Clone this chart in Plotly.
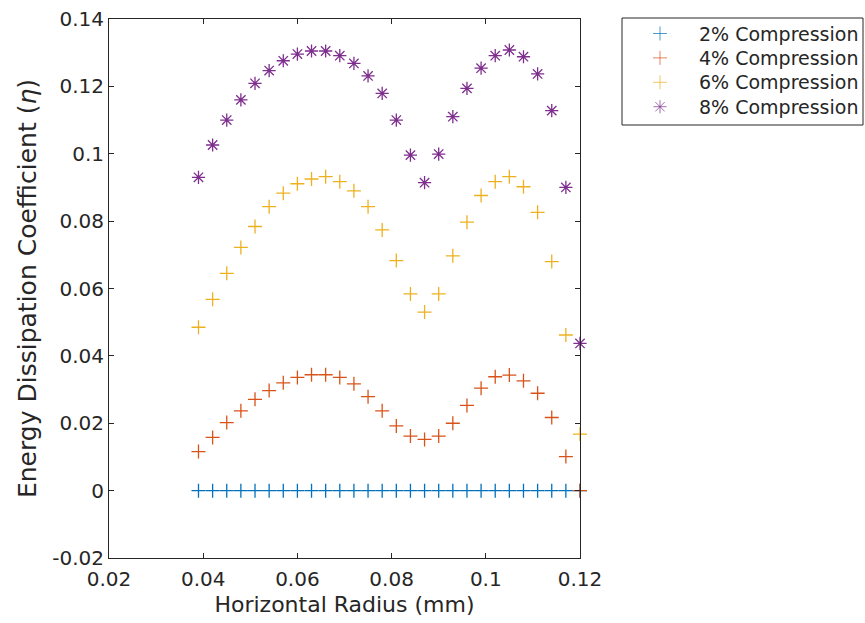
import plotly.graph_objects as go

# Horizontal radius samples (mm)
radius = [0.039, 0.042, 0.045, 0.048, 0.051, 0.054, 0.057, 0.060, 0.063, 0.066,
          0.069, 0.072, 0.075, 0.078, 0.081, 0.084, 0.087, 0.090, 0.093, 0.096,
          0.099, 0.102, 0.105, 0.108, 0.111, 0.114, 0.117, 0.120]

# Energy dissipation coefficient per compression level
eta_2pct = [0.0] * 28
eta_4pct = [0.0116, 0.0158, 0.0202, 0.0237, 0.0271, 0.0297, 0.0320, 0.0336, 0.0344, 0.0344,
            0.0336, 0.0317, 0.0279, 0.0237, 0.0192, 0.0162, 0.0152, 0.0162, 0.0200, 0.0253,
            0.0304, 0.0338, 0.0343, 0.0326, 0.0289, 0.0217, 0.0101, 0.0]
eta_6pct = [0.0485, 0.0568, 0.0645, 0.0722, 0.0784, 0.0843, 0.0883, 0.0911, 0.0925, 0.0932,
            0.0917, 0.0890, 0.0843, 0.0774, 0.0683, 0.0584, 0.0530, 0.0584, 0.0697, 0.0797,
            0.0876, 0.0917, 0.0932, 0.0902, 0.0826, 0.0680, 0.0462, 0.0168]
eta_8pct = [0.0930, 0.1026, 0.1100, 0.1160, 0.1209, 0.1247, 0.1276, 0.1296, 0.1305, 0.1305,
            0.1291, 0.1268, 0.1231, 0.1179, 0.1100, 0.0996, 0.0914, 0.0999, 0.1110, 0.1194,
            0.1254, 0.1291, 0.1308, 0.1288, 0.1237, 0.1128, 0.0900, 0.0437]

series_names = ["2% Compression", "4% Compression", "6% Compression", "8% Compression"]
series_colors = ["#0072BD", "#D95319", "#EDB120", "#7E2F8E"]
series_symbols = ["cross-thin-open", "cross-thin-open", "cross-thin-open", "asterisk-open"]
series_sizes = [10, 10, 10, 11]

x_tickvals = [0.02, 0.04, 0.06, 0.08, 0.10, 0.12]
x_ticktext = ["0.02", "0.04", "0.06", "0.08", "0.1", "0.12"]
y_tickvals = [-0.02, 0.0, 0.02, 0.04, 0.06, 0.08, 0.10, 0.12, 0.14]
y_ticktext = ["-0.02", "0", "0.02", "0.04", "0.06", "0.08", "0.1", "0.12", "0.14"]

W, H = 865, 623
font_family = "DejaVu Sans"
axis_color = "#262626"
marker_lw = 1.3

# Pixel frame of the axes box and of the legend box
ax_left, ax_right, ax_top, ax_bottom = 109, 580, 19, 558
lg_left, lg_right, lg_top, lg_bottom = 622, 863, 18, 125
lg_row0, lg_row_step = 15.5, 24.4
lg_marker_x, lg_text_x = 38, 75

fig = go.Figure()
for name, ys, color, symbol, size in zip(series_names,
                                         [eta_2pct, eta_4pct, eta_6pct, eta_8pct],
                                         series_colors, series_symbols, series_sizes):
    fig.add_trace(go.Scatter(
        x=radius, y=ys, mode="markers", name=name, showlegend=False,
        marker=dict(symbol=symbol, size=size,
                    color=color, line=dict(color=color, width=marker_lw)),
        cliponaxis=False,
    ))

# Legend swatches on a small helper axis laid over the legend box
rows = [lg_row0 + i * lg_row_step for i in range(len(series_names))]
fig.add_trace(go.Scatter(
    x=[lg_marker_x] * len(series_names), y=rows, mode="markers",
    xaxis="x2", yaxis="y2", showlegend=False, hoverinfo="skip",
    marker=dict(symbol=series_symbols, size=series_sizes,
                color=series_colors, line=dict(color=series_colors, width=1)),
    cliponaxis=False,
))
for name, ry in zip(series_names, rows):
    fig.add_annotation(
        x=lg_text_x, y=ry, xref="x2", yref="y2", text=name, showarrow=False,
        xanchor="left", yanchor="middle",
        font=dict(family=font_family, size=19, color=axis_color),
    )
fig.add_shape(type="rect", xref="paper", yref="paper",
              x0=lg_left / W, x1=lg_right / W,
              y0=1 - lg_bottom / H, y1=1 - lg_top / H,
              line=dict(color=axis_color, width=1), fillcolor="rgba(0,0,0,0)")

axis_common = dict(
    showgrid=False, zeroline=False, showline=True, linecolor=axis_color, linewidth=1,
    mirror="ticks", ticks="inside", ticklen=5, tickcolor=axis_color, tickwidth=1,
    tickfont=dict(family=font_family, size=20, color=axis_color),
)

fig.update_layout(
    width=W, height=H,
    margin=dict(l=0, r=0, t=0, b=0, autoexpand=False),
    paper_bgcolor="white", plot_bgcolor="white",
    font=dict(family=font_family, color=axis_color),
    showlegend=False,
    xaxis=dict(domain=[ax_left / W, ax_right / W],
               range=[0.02, 0.12], tickvals=x_tickvals, ticktext=x_ticktext,
               ticklabelstandoff=3, automargin=False,
               title=dict(text="Horizontal Radius (mm)",
                          font=dict(family=font_family, size=22, color=axis_color),
                          standoff=6),
               **axis_common),
    yaxis=dict(domain=[1 - ax_bottom / H, 1 - ax_top / H],
               range=[-0.02, 0.14], tickvals=y_tickvals, ticktext=y_ticktext,
               automargin=False,
               title=dict(text="Energy Dissipation Coefficient (<i>η</i>)",
                          font=dict(family=font_family, size=25, color=axis_color),
                          standoff=8),
               **axis_common),
    xaxis2=dict(domain=[lg_left / W, lg_right / W], range=[0, lg_right - lg_left],
                visible=False, fixedrange=True),
    yaxis2=dict(domain=[1 - lg_bottom / H, 1 - lg_top / H],
                range=[lg_bottom - lg_top, 0], visible=False, fixedrange=True),
)

fig.write_html("out.html")
